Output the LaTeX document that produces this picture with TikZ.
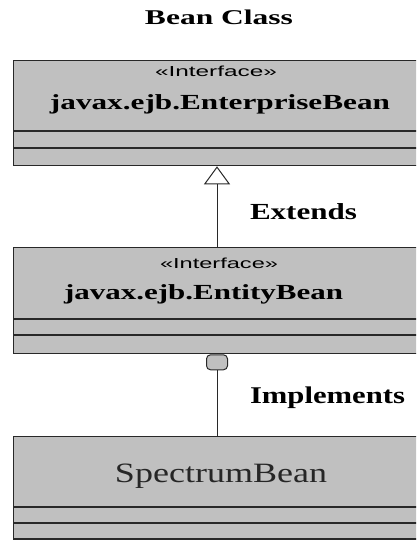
\documentclass[tikz,border=0pt]{standalone}
\usepackage{fontspec}
\setmainfont{Liberation Serif}
\newfontfamily\sansf{Liberation Sans}
\usetikzlibrary{arrows.meta}
\definecolor{boxgray}{RGB}{192,192,192}
\definecolor{edge}{RGB}{40,40,40}
\newcommand{\fitw}[3]{\resizebox{#1pt}{\height}{\fontsize{#2}{#2}\selectfont #3}}
\begin{document}
\begin{tikzpicture}[x=1pt,y=-1pt,
  classbox/.style={draw=edge,fill=boxgray,line width=1.3pt,rectangle,inner sep=0,minimum width=418pt},
  sep/.style={draw=edge,line width=1.3pt},
  lbl/.style={inner sep=0,outer sep=0},
  conn/.style={draw=edge,line width=1pt},
  lolli/.style={draw=edge,fill=boxgray,line width=1pt,rectangle,rounded corners=4pt,minimum width=21pt,minimum height=15pt,inner sep=0}
]
\useasboundingbox (0,0) rectangle (416,540);
\clip (0,0) rectangle (416,540);
% title
\node[lbl,anchor=base] (title) at (219,25) {\fitw{148}{21}{\bfseries Bean Class}};
% boxes
\node[classbox,minimum height=105pt,anchor=north west] (b1) at (13,60) {};
\node[classbox,minimum height=106pt,anchor=north west] (b2) at (13,247) {};
\node[classbox,minimum height=110pt,anchor=north west] (b3) at (13,436) {};
% compartments
\draw[sep] (b1.west |- 0,131) -- (b1.east |- 0,131);
\draw[sep] (b1.west |- 0,148) -- (b1.east |- 0,148);
\draw[sep] (b2.west |- 0,319) -- (b2.east |- 0,319);
\draw[sep] (b2.west |- 0,335) -- (b2.east |- 0,335);
\draw[sep] (b3.west |- 0,507) -- (b3.east |- 0,507);
\draw[sep] (b3.west |- 0,523) -- (b3.east |- 0,523);
\draw[sep] (b3.west |- 0,539) -- (b3.east |- 0,539);
% texts in boxes
\node[lbl,anchor=base] (s1) at (216,77) {\fitw{122}{14.5}{\sansf «Interface»}};
\node[lbl,anchor=base] (n1) at (220,110) {\fitw{340}{21.5}{\bfseries javax.ejb.EnterpriseBean}};
\node[lbl,anchor=base] (s2) at (219,268) {\fitw{118}{14.5}{\sansf «Interface»}};
\node[lbl,anchor=base] (n2) at (203.5,299) {\fitw{279}{21.5}{\bfseries javax.ejb.EntityBean}};
\node[lbl,anchor=base] (n3) at (221,482) {\fitw{212}{28}{\color{black!85}SpectrumBean}};
% connector labels
\node[lbl,anchor=base west] (ext) at (250,219) {\fitw{107}{23}{\bfseries Extends}};
\node[lbl,anchor=base west] (imp) at (250,403) {\fitw{155}{24}{\bfseries Implements}};
% connectors
\coordinate (xl) at (217,0);
\draw[conn,-{Triangle[open,length=18pt,width=26pt,line width=1pt]}] (b2.north -| xl) -- (b1.south -| xl);
\node[lolli,anchor=north] (lp) at (b2.south -| xl) {};
\draw[conn] (b3.north -| xl) -- (lp.south);
\end{tikzpicture}
\end{document}
